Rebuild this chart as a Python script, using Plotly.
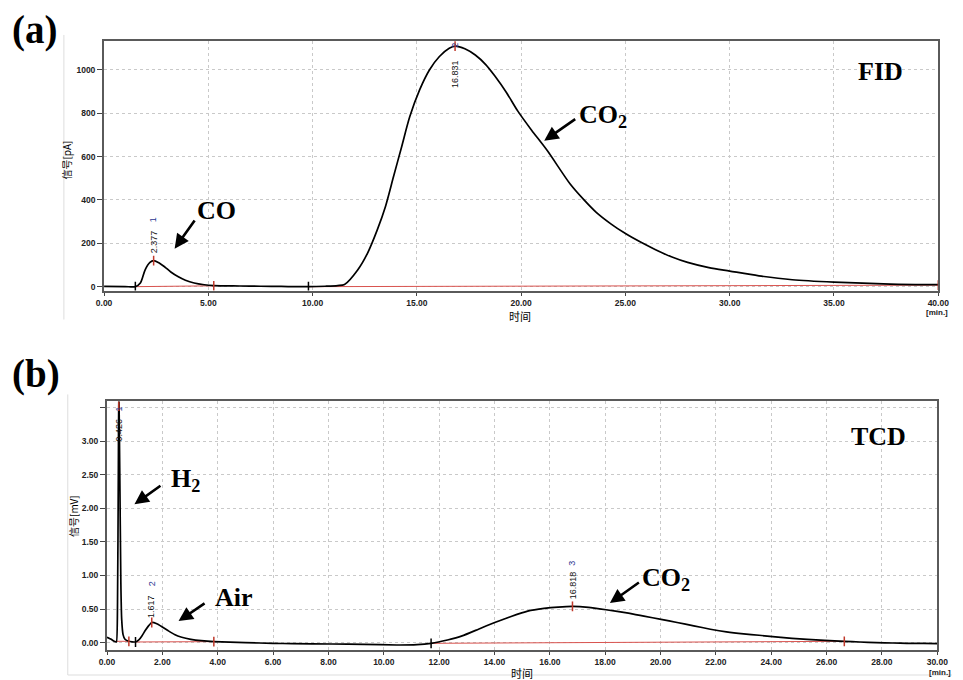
import plotly.graph_objects as go

W, H = 963, 680

# ---------------- data ----------------
fid_time = [0.0, 1.0, 1.5, 1.74, 1.97, 2.2, 2.377, 2.6, 2.91, 3.2, 3.54, 3.9, 4.32, 4.8, 5.26,
            6.5, 7.5, 8.5, 9.8, 10.6, 11.2, 11.53, 12.16, 12.63, 13.1, 13.49, 13.88, 14.27,
            14.66, 15.13, 15.6, 16.08, 16.55, 16.831, 17.3, 17.8, 18.3, 18.74, 19.3, 19.84, 20.5,
            21.25, 22.34, 22.97, 23.6, 24.3, 25.0, 25.7, 26.42, 27.2, 27.98, 29.0, 30.0, 31.4, 33.0,
            35.0, 37.7, 40.0]
fid_signal = [1, 0.5, 0, 17, 78, 112, 120, 112, 91, 68, 47, 30, 17, 9, 5,
              3, 2, 1, 0, 2, 5, 10, 77, 154, 262, 369, 508, 646,
              785, 908, 1000, 1062, 1100, 1110, 1098, 1069, 1025, 972, 895, 810, 722,
              628, 475, 405, 343, 290, 245, 207, 172, 138, 112, 88, 72, 50, 32,
              21, 12, 9]

tcd_time = [0.0, 0.15, 0.26, 0.34, 0.38, 0.41, 0.426, 0.46, 0.5, 0.53, 0.58, 0.65, 0.79, 1.03,
            1.15, 1.26, 1.38, 1.5, 1.617, 1.8, 1.97, 2.2, 2.44, 2.7, 3.03, 3.4, 3.86, 5.0,
            6.0, 6.69, 8.11, 9.29, 10.47, 11.2, 11.71, 12.3, 12.83, 13.42, 14.01, 14.6, 15.2,
            15.79, 16.3, 16.818, 17.4, 18.03, 18.84, 19.4, 20.02, 20.6, 21.2, 21.8, 22.38,
            23.0, 23.56, 24.15, 24.75, 25.3, 25.93, 26.64, 27.2, 27.8, 28.4, 28.9, 29.5, 30.0]
tcd_signal = [0.08, 0.05, 0.02, 0.01, 0.6, 2.6, 3.9, 2.6, 0.9, 0.35, 0.12, 0.05, 0.02, 0.01,
              0.04, 0.10, 0.18, 0.25, 0.30, 0.28, 0.24, 0.18, 0.12, 0.08, 0.05, 0.03, 0.015, 0.0,
              -0.01, -0.015, -0.02, -0.025, -0.035, -0.03, -0.01, 0.04, 0.10, 0.20, 0.30, 0.39, 0.47,
              0.51, 0.53, 0.54, 0.525, 0.49, 0.44, 0.395, 0.347, 0.30, 0.25, 0.20, 0.16,
              0.13, 0.11, 0.085, 0.064, 0.05, 0.034, 0.02, 0.01, 0.0, -0.005, -0.01, -0.012, -0.015]

# integration baselines (start, end) pairs
fid_base_time = [1.5, 5.26, None, 9.8, 40.0]
fid_base_signal = [0, 4, None, 0, 7]
tcd_base_time = [0.3, 0.79, None, 1.03, 3.86, None, 11.71, 26.64]
tcd_base_signal = [0.02, 0.02, None, 0.01, 0.015, None, -0.01, 0.02]

# peak info
fid_peak_time = [2.377, 16.831]
fid_peak_signal = [120, 1110]
fid_peak_no = ["1", "2"]
fid_peak_label = ["2.377", "16.831"]
fid_start_time = [1.5, 9.8]
fid_start_signal = [0, 0]
fid_end_time = [5.26, 40.0]
fid_end_signal = [4, 7]

tcd_peak_time = [0.426, 1.617, 16.818]
tcd_peak_signal = [3.52, 0.30, 0.54]
tcd_peak_no = ["1", "2", "3"]
tcd_peak_label = ["0.426", "1.617", "16.818"]
tcd_start_time = [1.03, 11.71]
tcd_start_signal = [0.01, -0.01]
tcd_end_time = [0.79, 3.86, 26.64]
tcd_end_signal = [0.02, 0.015, 0.02]

fid_xticks = [0, 5, 10, 15, 20, 25, 30, 35, 40]
fid_yticks = [0, 200, 400, 600, 800, 1000]
tcd_xticks = list(range(0, 31, 2))
tcd_yticks = [0.0, 0.5, 1.0, 1.5, 2.0, 2.5, 3.0, 3.5]

# ---------------- figure ----------------
fig = go.Figure()

LINE = dict(color="black", width=1.7)
RED = "#d9534f"

fig.add_trace(go.Scatter(x=fid_base_time, y=fid_base_signal, mode="lines",
                         line=dict(color=RED, width=1), xaxis="x", yaxis="y", hoverinfo="skip"))
fig.add_trace(go.Scatter(x=fid_time, y=fid_signal, mode="lines",
                         line=dict(shape="spline", smoothing=0.8, **LINE), xaxis="x", yaxis="y"))
fig.add_trace(go.Scatter(x=tcd_base_time, y=tcd_base_signal, mode="lines",
                         line=dict(color=RED, width=1), xaxis="x2", yaxis="y2", hoverinfo="skip"))
fig.add_trace(go.Scatter(x=tcd_time, y=tcd_signal, mode="lines",
                         line=dict(shape="spline", smoothing=0.4, **LINE), xaxis="x2", yaxis="y2"))


def tick_markers(xs, ys, color, xa, ya):
    fig.add_trace(go.Scatter(x=xs, y=ys, mode="markers", xaxis=xa, yaxis=ya, hoverinfo="skip",
                             marker=dict(symbol="line-ns", size=7, line=dict(color=color, width=1.5))))


tick_markers(fid_peak_time, fid_peak_signal, "#c0392b", "x", "y")
tick_markers(fid_start_time, fid_start_signal, "black", "x", "y")
tick_markers(fid_end_time, fid_end_signal, "#c0392b", "x", "y")
tick_markers(tcd_peak_time, tcd_peak_signal, "#c0392b", "x2", "y2")
tick_markers(tcd_start_time, tcd_start_signal, "black", "x2", "y2")
tick_markers(tcd_end_time, tcd_end_signal, "#c0392b", "x2", "y2")

TICKFONT = dict(family="Liberation Sans", size=8.5, color="#222", weight="bold")
GRID = dict(showgrid=True, gridcolor="#c9c9c9", griddash="dot", gridwidth=1)
FRAME = dict(showline=True, linecolor="#5a5a5a", linewidth=2, mirror=True, ticks="outside",
             tickcolor="#444", tickwidth=1, tickfont=TICKFONT, zeroline=False)

fig.update_layout(
    width=W, height=H, margin=dict(l=0, r=0, t=0, b=0),
    paper_bgcolor="white", plot_bgcolor="white", showlegend=False,
    xaxis=dict(domain=[98 / W, 949 / W], anchor="y", range=[0, 40], tickvals=fid_xticks, ticklen=3,
               ticktext=[f"{v:.2f}" for v in fid_xticks], **GRID, **FRAME),
    yaxis=dict(domain=[1 - 291 / H, 1 - 41 / H], anchor="x", range=[-18, 1134], tickvals=fid_yticks, ticklen=5,
               ticktext=[str(v) for v in fid_yticks], **GRID, **FRAME),
    xaxis2=dict(domain=[101 / W, 948 / W], anchor="y2", range=[0, 30], tickvals=tcd_xticks, ticklen=3,
                ticktext=[f"{v:.2f}" for v in tcd_xticks], **GRID, **FRAME),
    yaxis2=dict(domain=[1 - 651 / H, 1 - 402 / H], anchor="x2", range=[-0.11, 3.59], tickvals=tcd_yticks, ticklen=5,
                ticktext=[f"{v:.2f}" if v < 3.4 else "" for v in tcd_yticks], **GRID, **FRAME),
)

ann = []
SERIF = "Liberation Serif, Times New Roman, serif"


def ptxt(text, x, y, size, xanchor="left", yanchor="middle", angle=0, bold=True, family=SERIF, color="black"):
    ann.append(dict(text=f"<b>{text}</b>" if bold else text, x=x / W, y=1 - y / H, xref="paper", yref="paper",
                    xanchor=xanchor, yanchor=yanchor, showarrow=False, textangle=angle,
                    font=dict(family=family, size=size, color=color)))


def arrow(tx, ty, hx, hy):
    ann.append(dict(text=" ", x=hx / W, y=1 - hy / H, xref="paper", yref="paper", ax=tx - hx, ay=ty - hy,
                    showarrow=True, arrowhead=2, arrowsize=1.1, arrowwidth=2.6, arrowcolor="black",
                    standoff=0, startstandoff=0, font=dict(size=2)))


# panel letters
ptxt("(a)", 2, 30, 39)
ptxt("(b)", 2, 375, 39)
# species labels
ptxt("CO", 191, 211, 26)
arrow(192, 218, 170, 249)
ptxt("CO<sub>2</sub>", 580, 116, 26)
arrow(580, 118, 547, 141)
ptxt("FID", 890, 72, 26, xanchor="center")
ptxt("H<sub>2</sub>", 164, 481, 26)
arrow(157, 485, 129, 505)
ptxt("Air", 209, 598, 26)
arrow(202, 603, 174, 622)
ptxt("CO<sub>2</sub>", 645, 580, 26)
arrow(645, 582, 614, 604)
ptxt("TCD", 888, 437, 26, xanchor="center")

# axis titles
CJK = "Noto Sans CJK SC"
ptxt("信号[pA]", 60, 160, 10, xanchor="center", angle=-90, bold=False, family=CJK)
ptxt("信号[mV]", 67, 517, 10, xanchor="center", angle=-90, bold=False, family=CJK)
ptxt("时间", 522, 316, 11, xanchor="center", bold=False, family=CJK)
ptxt("时间", 524, 674, 11, xanchor="center", bold=False, family=CJK)
ptxt("[min.]", 948, 313, 8, xanchor="center", bold=True, family="Liberation Sans", color="#222")
ptxt("[min.]", 951, 673, 8, xanchor="center", bold=True, family="Liberation Sans", color="#222")


def peak_label(text, num, x, y_text, y_num, xr, yr):
    ann.append(dict(text=text, x=x, y=y_text, xref=xr, yref=yr, showarrow=False, textangle=-90,
                    font=dict(family="Liberation Sans", size=9, color="#111")))
    ann.append(dict(text=num, x=x, y=y_num, xref=xr, yref=yr, showarrow=False, textangle=-90,
                    font=dict(family="Liberation Sans", size=9, color="#2a3590")))


peak_label(fid_peak_label[0], fid_peak_no[0], fid_peak_time[0], 208, 310, "x", "y")
peak_label(fid_peak_label[1], fid_peak_no[1], fid_peak_time[1], 982, 1112, "x", "y")
peak_label(tcd_peak_label[0], tcd_peak_no[0], tcd_peak_time[0], 3.17, 3.48, "x2", "y2")
peak_label(tcd_peak_label[1], tcd_peak_no[1], tcd_peak_time[1], 0.54, 0.88, "x2", "y2")
peak_label(tcd_peak_label[2], tcd_peak_no[2], tcd_peak_time[2], 0.86, 1.18, "x2", "y2")

fig.update_layout(annotations=ann)

shapes = [
    dict(type="line", xref="paper", yref="paper", x0=57 / W, x1=57 / W, y0=1 - 320 / H, y1=1 - 35 / H,
         line=dict(color="#dddddd", width=1)),
    dict(type="line", xref="paper", yref="paper", x0=61 / W, x1=61 / W, y0=1 - 676 / H, y1=1 - 395 / H,
         line=dict(color="#dddddd", width=1)),
    dict(type="line", xref="paper", yref="paper", x0=61 / W, x1=1, y0=1 - 676 / H, y1=1 - 676 / H,
         line=dict(color="#dddddd", width=1)),
]
fig.update_layout(shapes=shapes)

fig.write_html("out.html")
